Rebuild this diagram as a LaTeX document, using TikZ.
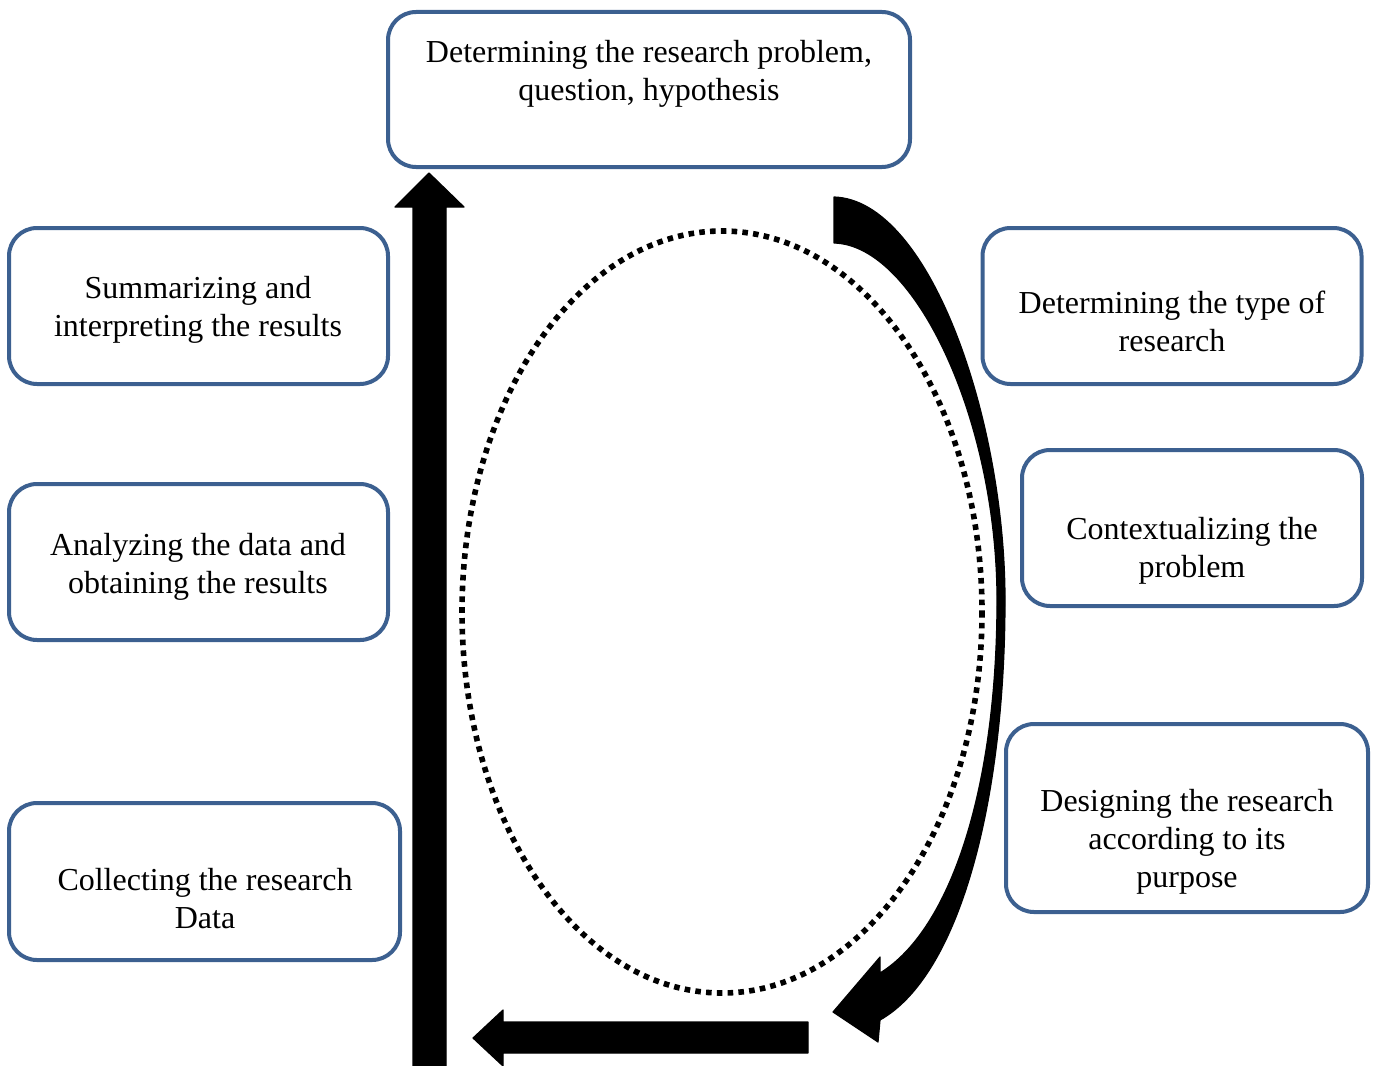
\documentclass[tikz,border=0pt]{standalone}
\usepackage{fontspec}
\setmainfont{Liberation Serif}
\begin{document}
\begin{tikzpicture}[x=0.5pt,y=-0.5pt,
  box/.style={draw=boxblue,line width=2pt,rounded corners=14pt,fill=white,inner sep=0pt},
  lbl/.style={align=center,inner sep=0pt,font=\fontsize{16}{19}\selectfont},
  blockarrow/.style={fill=black,draw=black,line width=0.6pt,line join=round}]
\definecolor{boxblue}{HTML}{3C6090}
\useasboundingbox (0,0) rectangle (1379,1065);

% process boxes
\node[box,minimum width=261pt,minimum height=77.5pt] (b1) at (649,89.5) {};
\node[box,minimum width=189.5pt,minimum height=78pt] (b2) at (1172,306) {};
\node[box,minimum width=170pt,minimum height=78pt] (b3) at (1192,528) {};
\node[box,minimum width=181pt,minimum height=94pt] (b4) at (1187,818) {};
\node[box,minimum width=195.5pt,minimum height=78.5pt] (b5) at (204.5,881.5) {};
\node[box,minimum width=189.5pt,minimum height=78pt] (b6) at (198.5,562) {};
\node[box,minimum width=189.5pt,minimum height=78pt] (b7) at (198.5,306) {};

% box labels
\node[lbl] (t1) at (649,74) {Determining the research problem,\\question, hypothesis};
\node[lbl] (t2) at (1172,321) {Determining the type of\\research};
\node[lbl] (t3) at (1192,551) {Contextualizing the\\problem};
\node[lbl] (t4) at (1187,842) {Designing the research\\according to its\\purpose};
\node[lbl] (t5) at (205,899) {Collecting the research\\Data};
\node[lbl] (t6) at (198,567) {Analyzing the data and\\obtaining the results};
\node[lbl] (t7) at (198,310) {Summarizing and\\interpreting the results};

% dotted cycle
\draw[line width=2.8pt,dash pattern=on 2.8pt off 2.6pt] (722,612) ellipse [x radius=260, y radius=381];

% curved arrow down the right side, thin in the middle
\path[blockarrow] (834,197) .. controls (930,200) and (1005,420) .. (1005,600)
  .. controls (1005,800) and (960,975) .. (880,1020)
  -- (878,1042) -- (833,1012) -- (880,957) -- (880,973)
  .. controls (950,930) and (997,790) .. (997,600)
  .. controls (997,420) and (915,245) .. (834,243) -- cycle;

% arrow along the bottom
\path[blockarrow] (808,1022) -- (503,1022) -- (503,1010) -- (473,1038)
  -- (503,1066) -- (503,1053) -- (808,1053) -- cycle;

% arrow up the left side
\path[blockarrow] (413,1070) -- (413,207) -- (395,207) -- (429,173)
  -- (464,207) -- (446,207) -- (446,1070) -- cycle;
\end{tikzpicture}
\end{document}
